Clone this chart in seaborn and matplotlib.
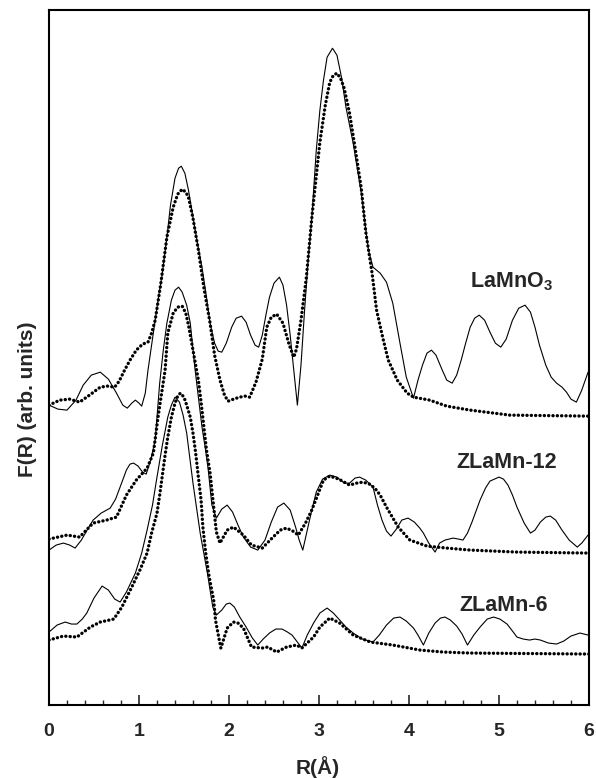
import numpy as np
import pandas as pd
import matplotlib
matplotlib.use("Agg")
import matplotlib.pyplot as plt
import seaborn as sns
from matplotlib.ticker import MultipleLocator, NullLocator

# === ДАННЫЕ (F(R) в условных единицах) ===
# LaMnO3: эксперимент (сплошная) и расчёт (точки)
la_exp_r = [0.00, 0.10, 0.20, 0.30, 0.38, 0.47, 0.57, 0.66, 0.75, 0.82, 0.87, 0.92, 0.96, 1.00,
            1.03, 1.07, 1.10, 1.14, 1.18, 1.22, 1.26, 1.31, 1.35, 1.40, 1.44, 1.47, 1.51, 1.55,
            1.60, 1.65, 1.70, 1.75, 1.79, 1.84, 1.88, 1.92, 1.97, 2.03, 2.08, 2.14, 2.19, 2.24,
            2.29, 2.33, 2.37, 2.41, 2.45, 2.50, 2.56, 2.60, 2.64, 2.68, 2.72, 2.76, 2.80, 2.84,
            2.88, 2.92, 2.97, 3.01, 3.05, 3.09, 3.15, 3.20, 3.25, 3.30, 3.38, 3.47, 3.55, 3.60,
            3.68, 3.75, 3.82, 3.90, 3.97, 4.05, 4.10, 4.15, 4.20, 4.25, 4.30, 4.37, 4.42, 4.48,
            4.53, 4.58, 4.63, 4.68, 4.73, 4.78, 4.84, 4.90, 4.96, 5.02, 5.08, 5.15, 5.22, 5.29,
            5.35, 5.40, 5.45, 5.52, 5.58, 5.64, 5.70, 5.75, 5.80, 5.86, 5.92, 5.99]
la_exp_f = [300, 296, 295, 305, 320, 330, 333, 326, 312, 300, 297, 302, 305, 302,
            299, 312, 335, 360, 385, 410, 432, 468, 500, 527, 537, 539, 532, 515,
            488, 462, 438, 408, 382, 362, 354, 353, 362, 378, 387, 389, 383, 370,
            360, 358, 370, 390, 408, 422, 428, 420, 400, 370, 335, 300, 340, 395,
            445, 487, 555, 595, 625, 648, 657, 650, 628, 598, 562, 512, 455, 438,
            432, 423, 402, 362, 328, 307, 325, 340, 352, 355, 350, 335, 325, 322,
            330, 345, 362, 378, 387, 390, 385, 373, 362, 358, 366, 385, 397, 400,
            393, 378, 360, 340, 328, 322, 318, 313, 306, 303, 315, 333]

la_fit_r = [0.00, 0.12, 0.23, 0.34, 0.45, 0.57, 0.65, 0.73, 0.78, 0.84, 0.90, 0.97, 1.04, 1.10,
            1.14, 1.18, 1.24, 1.31, 1.38, 1.43, 1.48, 1.52, 1.55, 1.60, 1.66, 1.72, 1.79, 1.84,
            1.90, 1.95, 1.99, 2.05, 2.12, 2.18, 2.23, 2.30, 2.37, 2.42, 2.47, 2.53, 2.60, 2.67,
            2.72, 2.75, 2.80, 2.86, 2.92, 3.01, 3.07, 3.12, 3.16, 3.20, 3.24, 3.28, 3.34, 3.40,
            3.47, 3.52, 3.59, 3.64, 3.71, 3.77, 3.87, 3.98, 4.05, 4.23, 4.42, 4.68, 5.12, 6.00]
la_fit_f = [300, 305, 306, 303, 310, 318, 319, 318, 324, 335, 345, 355, 361, 363,
            372, 385, 420, 468, 498, 511, 516, 513, 508, 487, 455, 418, 382, 350,
            325, 310, 304, 306, 308, 309, 308, 323, 346, 378, 388, 391, 382, 360,
            348, 356, 385, 428, 487, 563, 600, 623, 630, 632, 627, 617, 592, 558,
            517, 473, 432, 395, 367, 345, 325, 312, 308, 305, 299, 295, 290, 289]

# ZLaMn-12
z12_exp_r = [0.00, 0.08, 0.16, 0.23, 0.29, 0.36, 0.43, 0.49, 0.58, 0.68, 0.74, 0.79, 0.86, 0.90,
             0.94, 0.99, 1.04, 1.08, 1.13, 1.18, 1.23, 1.27, 1.31, 1.36, 1.40, 1.44, 1.48, 1.53,
             1.57, 1.62, 1.66, 1.70, 1.74, 1.77, 1.81, 1.86, 1.92, 1.98, 2.04, 2.10, 2.16, 2.24,
             2.32, 2.40, 2.47, 2.54, 2.61, 2.68, 2.74, 2.78, 2.82, 2.87, 2.92, 2.97, 3.04, 3.12,
             3.20, 3.28, 3.34, 3.40, 3.45, 3.52, 3.60, 3.65, 3.70, 3.75, 3.80, 3.86, 3.92, 3.99,
             4.06, 4.12, 4.16, 4.22, 4.29, 4.34, 4.40, 4.49, 4.55, 4.60, 4.65, 4.70, 4.79, 4.85,
             4.90, 5.00, 5.05, 5.10, 5.15, 5.20, 5.28, 5.35, 5.40, 5.46, 5.52, 5.57, 5.63, 5.70,
             5.78, 5.87, 5.92, 5.99]
z12_exp_f = [155, 160, 162, 160, 157, 165, 176, 185, 192, 197, 206, 218, 235, 241,
             242, 239, 233, 231, 245, 265, 322, 355, 382, 405, 415, 418, 413, 400,
             382, 338, 308, 278, 255, 235, 200, 187, 196, 200, 193, 180, 168, 158,
             155, 165, 183, 198, 202, 195, 178, 165, 155, 175, 195, 213, 226, 230,
             228, 222, 222, 227, 228, 225, 218, 200, 185, 174, 169, 176, 185, 187,
             183, 177, 172, 162, 153, 162, 165, 167, 166, 165, 172, 183, 205, 217,
             224, 228, 226, 220, 210, 198, 182, 172, 175, 183, 188, 189, 185, 175,
             165, 158, 162, 170]

z12_fit_r = [0.00, 0.20, 0.34, 0.49, 0.64, 0.75, 0.86, 0.97, 1.09, 1.16, 1.21, 1.29, 1.32, 1.38,
             1.43, 1.48, 1.52, 1.55, 1.62, 1.66, 1.69, 1.75, 1.79, 1.86, 1.90, 1.98, 2.05, 2.16,
             2.25, 2.37, 2.49, 2.57, 2.64, 2.71, 2.77, 2.85, 2.92, 3.05, 3.12, 3.22, 3.34, 3.42,
             3.49, 3.56, 3.62, 3.68, 3.75, 3.88, 4.01, 4.20, 4.42, 4.68, 5.20, 6.00]
z12_fit_f = [166, 170, 168, 182, 185, 188, 210, 225, 237, 252, 287, 335, 372, 392,
             398, 399, 392, 380, 345, 325, 303, 255, 232, 173, 162, 175, 178, 170,
             160, 157, 168, 175, 177, 174, 170, 182, 195, 225, 229, 226, 220, 222,
             223, 221, 217, 210, 198, 178, 165, 159, 157, 155, 153, 152]

# ZLaMn-6
z6_exp_r = [0.00, 0.09, 0.18, 0.25, 0.31, 0.37, 0.42, 0.50, 0.59, 0.66, 0.73, 0.79, 0.86, 0.96,
            1.03, 1.09, 1.15, 1.20, 1.26, 1.32, 1.36, 1.40, 1.45, 1.49, 1.53, 1.60, 1.68, 1.76,
            1.82, 1.86, 1.92, 1.97, 2.01, 2.06, 2.12, 2.19, 2.26, 2.32, 2.38, 2.45, 2.52, 2.59,
            2.65, 2.70, 2.76, 2.81, 2.87, 2.94, 3.01, 3.09, 3.16, 3.23, 3.30, 3.38, 3.48, 3.60,
            3.67, 3.75, 3.83, 3.90, 3.97, 4.05, 4.10, 4.16, 4.22, 4.29, 4.35, 4.40, 4.46, 4.53,
            4.59, 4.65, 4.72, 4.79, 4.87, 4.94, 5.01, 5.09, 5.15, 5.20, 5.27, 5.34, 5.40, 5.46,
            5.55, 5.64, 5.72, 5.80, 5.90, 5.99]
z6_exp_f = [73, 80, 83, 81, 81, 86, 92, 107, 119, 115, 106, 103, 113, 132,
            152, 175, 200, 228, 260, 288, 300, 308, 303, 290, 272, 222, 172, 132,
            98, 90, 95, 101, 102, 98, 88, 78, 67, 60, 66, 72, 76, 76,
            73, 70, 63, 57, 70, 82, 92, 97, 92, 85, 78, 72, 66, 63,
            70, 80, 87, 88, 84, 77, 70, 60, 72, 82, 87, 88, 85, 79,
            71, 60, 70, 78, 86, 88, 86, 81, 74, 68, 66, 65, 66, 65,
            62, 61, 64, 69, 72, 70]

z6_fit_r = [0.00, 0.16, 0.31, 0.46, 0.57, 0.72, 0.81, 0.92, 1.01, 1.09, 1.14, 1.20, 1.23, 1.29,
            1.32, 1.36, 1.40, 1.43, 1.46, 1.50, 1.53, 1.57, 1.60, 1.63, 1.66, 1.69, 1.71, 1.74,
            1.78, 1.83, 1.85, 1.89, 1.91, 1.98, 2.05, 2.10, 2.16, 2.25, 2.37, 2.43, 2.53, 2.64,
            2.75, 2.81, 2.94, 3.01, 3.12, 3.23, 3.38, 3.57, 3.82, 4.12, 4.38, 4.68, 6.00]
z6_fit_f = [65, 69, 68, 78, 83, 86, 98, 118, 135, 152, 172, 192, 210, 250,
            268, 288, 302, 309, 312, 308, 300, 288, 272, 252, 228, 205, 178, 153,
            128, 105, 85, 66, 57, 77, 83, 82, 77, 58, 57, 58, 53, 58,
            60, 57, 68, 78, 87, 82, 70, 63, 60, 55, 53, 52, 51]

labels = [r"LaMnO$_\mathbf{3}$", "ZLaMn-12", "ZLaMn-6"]
label_r = [4.68, 4.53, 4.56]
label_f = [423, 243, 100]

# === ГРАФИК ===
sns.set_style("ticks")
plt.rcParams['font.family'] = ['Liberation Sans', 'DejaVu Sans']
plt.rcParams['mathtext.fontset'] = 'custom'
plt.rcParams['mathtext.bf'] = 'Liberation Sans:bold'

fig = plt.figure(figsize=(5.96, 7.78), dpi=100)
ax = fig.add_axes([0.0822, 0.0938, 0.906, 0.893])

exp_sets = [(la_exp_r, la_exp_f), (z12_exp_r, z12_exp_f), (z6_exp_r, z6_exp_f)]
fit_sets = [(la_fit_r, la_fit_f), (z12_fit_r, z12_fit_f), (z6_fit_r, z6_fit_f)]

for r, f in exp_sets:
    df = pd.DataFrame({'R': r, 'F': f})
    sns.lineplot(data=df, x='R', y='F', ax=ax, sort=False, estimator=None,
                 color='black', linewidth=0.8)

for r, f in fit_sets:
    df = pd.DataFrame({'R': r, 'F': f})
    sns.lineplot(data=df, x='R', y='F', ax=ax, sort=False, estimator=None,
                 color='black', linewidth=2.4, linestyle=(0, (0.05, 1.25)),
                 dash_capstyle='round')

for txt, r, f in zip(labels, label_r, label_f):
    ax.text(r, f, txt, fontsize=15.5, fontweight='bold', ha='left', va='center')

ax.set_xlim(0, 6)
ax.set_ylim(0, 695)
ax.xaxis.set_major_locator(MultipleLocator(1))
ax.xaxis.set_minor_locator(MultipleLocator(0.2))
ax.yaxis.set_major_locator(NullLocator())
ax.tick_params(axis='x', which='major', direction='in', length=7, width=1.2, pad=13,
               labelsize=14)
ax.tick_params(axis='x', which='minor', direction='in', length=3.5, width=1.0)
for lab in ax.get_xticklabels():
    lab.set_fontweight('bold')
for sp in ax.spines.values():
    sp.set_linewidth(1.5)
    sp.set_color('black')

ax.set_xlabel('R(Å)', fontsize=15, fontweight='bold')
ax.set_ylabel('F(R) (arb. units)', fontsize=15, fontweight='bold')
ax.xaxis.set_label_coords(0.498, -0.073)
ax.yaxis.set_label_coords(-0.022, 0.44)

fig.savefig('out.png', dpi=100)
